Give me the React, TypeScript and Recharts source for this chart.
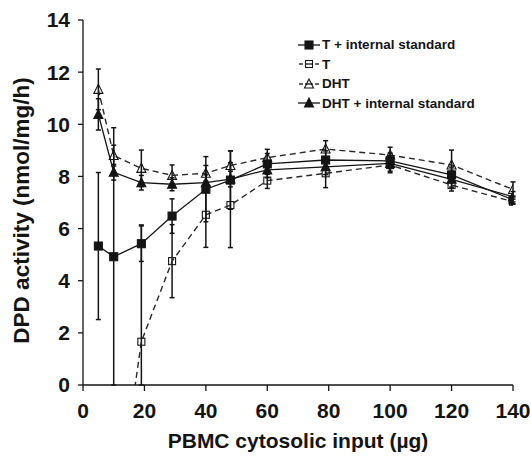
import React from 'react';
import { ComposedChart, Line, XAxis, YAxis, ErrorBar, Legend } from 'recharts';

// PBMC cytosolic input (µg)
const inputs = [5, 10, 19, 29, 40, 48, 60, 79, 100, 120, 140];
// T + internal standard (value, [lower, upper] visible error)
const tIS = [5.33, 4.92, 5.42, 6.48, 7.51, 7.86, 8.48, 8.63, 8.6, 8.06, 7.1];
const tISErr: [number, number][] = [
  [2.82, 2.82], [4.92, 4.95], [0.68, 0.68], [0.66, 0.66], [1.25, 1.25], [1.12, 1.12],
  [0.4, 0.4], [0.35, 0.35], [0.3, 0.3], [0.3, 0.3], [0.15, 0.15],
];
// T
const tOnly = [null, -5.8, 1.66, 4.75, 6.53, 6.9, 7.84, 8.12, 8.44, 7.67, 7.03];
const tOnlyErr: ([number, number] | null)[] = [
  null, null, [1.66, 4.48], [1.4, 1.4], [1.25, 1.25], [1.63, 1.63],
  [0.3, 0.3], [0.55, 0.55], [0.3, 0.3], [0.23, 0.23], [0.1, 0.1],
];
// DHT
const dht = [11.34, 8.8, 8.31, 8.04, 8.12, 8.42, 8.72, 9.05, 8.82, 8.44, 7.5];
const dhtErr = [0.78, 0.4, 0.7, 0.4, 0.3, 0.56, 0.32, 0.32, 0.3, 0.57, 0.29];
// DHT + internal standard
const dhtIS = [10.38, 8.16, 7.76, 7.7, 7.76, 7.9, 8.25, 8.37, 8.5, 7.89, 7.22];
const dhtISErr = [0.6, 0.3, 0.28, 0.25, 0.3, 0.3, 0.3, 0.3, 0.3, 0.3, 0.2];

const xTicks = [0, 20, 40, 60, 80, 100, 120, 140];
const yTicks = [0, 2, 4, 6, 8, 10, 12, 14];

const seriesNames = ['T + internal standard', 'T', 'DHT', 'DHT + internal standard'];

const data = inputs.map((x, i) => ({
  x,
  tIS: tIS[i],
  tISErr: tISErr[i],
  t: tOnly[i],
  tErr: tOnlyErr[i],
  dht: dht[i],
  dhtErr: dhtErr[i],
  dhtIS: dhtIS[i],
  dhtISErr: dhtISErr[i],
}));

const INK = '#141414';
const FONT = '"Liberation Sans", Arial, sans-serif';

type Shape = 'square' | 'triangle';

function markerEl(shape: Shape, filled: boolean, cx: number, cy: number, k?: string) {
  const fill = filled ? INK : 'none';
  if (shape === 'square') {
    const s = filled ? 8 : 7;
    return (
      <rect key={k} x={cx - s / 2} y={cy - s / 2} width={s} height={s} fill={fill} stroke={INK} strokeWidth={1.1} />
    );
  }
  const h = 8;
  const w = 9;
  return (
    <polygon
      key={k}
      points={`${cx},${cy - h / 2 - 1} ${cx - w / 2},${cy + h / 2} ${cx + w / 2},${cy + h / 2}`}
      fill={fill}
      stroke={INK}
      strokeWidth={1.1}
    />
  );
}

const makeDot = (shape: Shape, filled: boolean) => (props: any) => {
  const { cx, cy, index } = props;
  if (cx == null || cy == null || Number.isNaN(cx) || Number.isNaN(cy) || props.value == null) {
    return <g key={`n${index}`} />;
  }
  return markerEl(shape, filled, cx, cy, `d${index}`);
};

const legendItems: { name: string; shape: Shape; filled: boolean; dashed: boolean }[] = [
  { name: seriesNames[0], shape: 'square', filled: true, dashed: false },
  { name: seriesNames[1], shape: 'square', filled: false, dashed: true },
  { name: seriesNames[2], shape: 'triangle', filled: false, dashed: true },
  { name: seriesNames[3], shape: 'triangle', filled: true, dashed: false },
];

const renderLegend = () => (
  <div style={{ fontFamily: FONT }}>
    {legendItems.map((it) => (
      <div key={it.name} style={{ display: 'flex', alignItems: 'center', height: 19.5 }}>
        <svg width={22} height={12} style={{ marginRight: 2 }}>
          {it.dashed ? (
            <g stroke={INK} strokeWidth={1.3}>
              <line x1={1} y1={6} x2={5} y2={6} />
              <line x1={17} y1={6} x2={21} y2={6} />
              <line x1={7} y1={6} x2={15} y2={6} />
            </g>
          ) : (
            <line x1={0} y1={6} x2={22} y2={6} stroke={INK} strokeWidth={1.3} />
          )}
          {markerEl(it.shape, it.filled, 11, 6)}
        </svg>
        <span style={{ fontSize: 13.5, fontWeight: 700, color: INK, whiteSpace: 'nowrap' }}>{it.name}</span>
      </div>
    ))}
  </div>
);

const tickStyle = { fontSize: 21, fontWeight: 700, fill: INK, fontFamily: FONT };

export default function App() {
  return (
    <div style={{ position: 'absolute', left: 0, top: 0, width: 531, height: 457, background: '#fff', fontFamily: FONT }}>
      <ComposedChart width={531} height={457} data={data} margin={{ top: 20, right: 18, bottom: 12, left: 23 }}>
        <XAxis
          dataKey="x"
          type="number"
          domain={[0, 140]}
          ticks={xTicks}
          allowDataOverflow
          height={60}
          tickSize={6}
          tickMargin={12}
          stroke={INK}
          strokeWidth={1.3}
          tick={tickStyle}
          label={{
            value: 'PBMC cytosolic input (µg)',
            position: 'insideBottom',
            offset: -3,
            style: { fontSize: 21, fontWeight: 700, fill: INK, fontFamily: FONT },
          }}
        />
        <YAxis
          type="number"
          domain={[0, 14]}
          ticks={yTicks}
          allowDataOverflow
          width={60}
          tickSize={5}
          tickMargin={8}
          stroke={INK}
          strokeWidth={1.3}
          tick={tickStyle}
          label={{
            value: 'DPD activity (nmol/mg/h)',
            angle: -90,
            position: 'center',
            dx: -32,
            dy: 8,
            style: { fontSize: 22.5, fontWeight: 700, fill: INK, fontFamily: FONT, textAnchor: 'middle' },
          }}
        />
        <Legend
          layout="horizontal"
          verticalAlign="middle"
          align="center"
          wrapperStyle={{ top: 35, left: 298, width: 'auto' }}
          content={renderLegend}
        />
        <Line
          dataKey="t"
          name={seriesNames[1]}
          stroke="#2a2a2a"
          strokeWidth={1.4}
          strokeDasharray="6 4"
          dot={makeDot('square', false)}
          activeDot={false}
          isAnimationActive={false}
        >
          <ErrorBar dataKey="tErr" width={2.5} stroke={INK} strokeWidth={1.5} direction="y" />
        </Line>
        <Line
          dataKey="dht"
          name={seriesNames[2]}
          stroke="#2a2a2a"
          strokeWidth={1.4}
          strokeDasharray="6 4"
          dot={makeDot('triangle', false)}
          activeDot={false}
          isAnimationActive={false}
        >
          <ErrorBar dataKey="dhtErr" width={2.5} stroke={INK} strokeWidth={1.5} direction="y" />
        </Line>
        <Line
          dataKey="dhtIS"
          name={seriesNames[3]}
          stroke={INK}
          strokeWidth={1.3}
          dot={makeDot('triangle', true)}
          activeDot={false}
          isAnimationActive={false}
        >
          <ErrorBar dataKey="dhtISErr" width={2.5} stroke={INK} strokeWidth={1.5} direction="y" />
        </Line>
        <Line
          dataKey="tIS"
          name={seriesNames[0]}
          stroke={INK}
          strokeWidth={1.3}
          dot={makeDot('square', true)}
          activeDot={false}
          isAnimationActive={false}
        >
          <ErrorBar dataKey="tISErr" width={2.5} stroke={INK} strokeWidth={1.5} direction="y" />
        </Line>
      </ComposedChart>
    </div>
  );
}
